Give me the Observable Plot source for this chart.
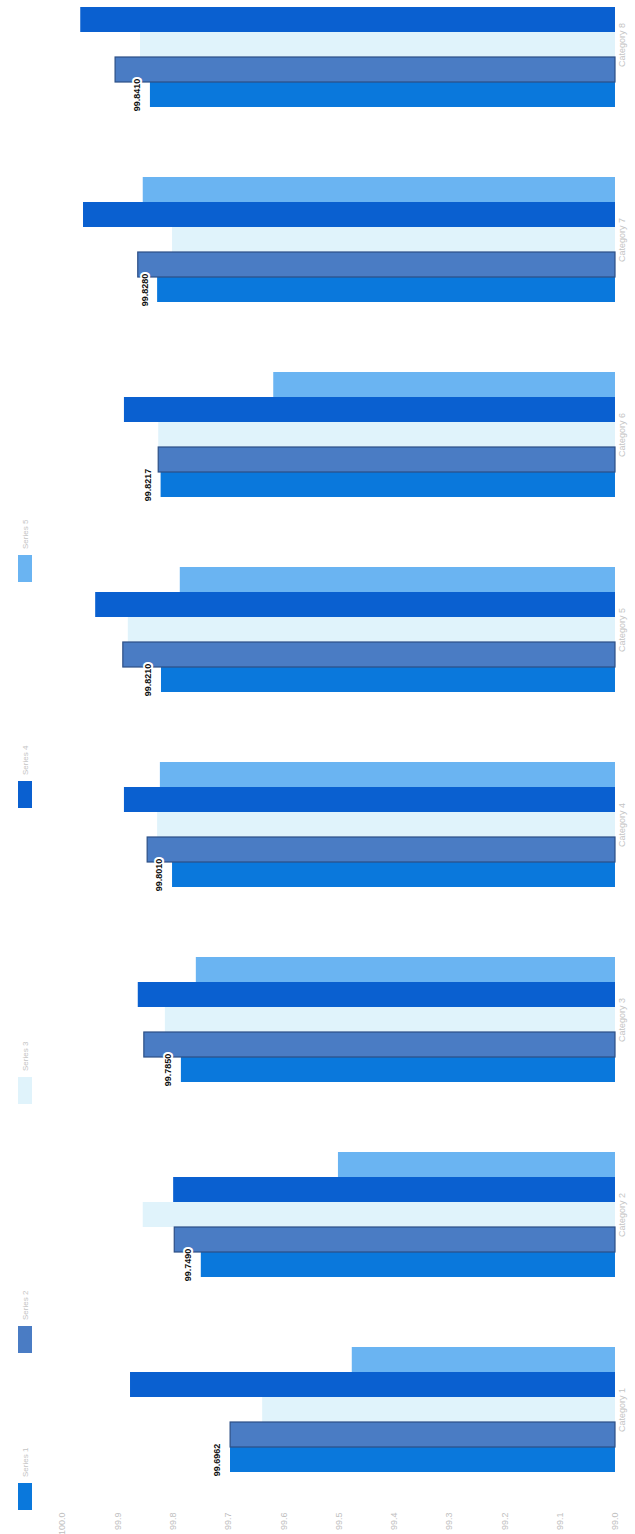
<!DOCTYPE html>
<html>
<head>
<meta charset="utf-8">
<script src="https://cdn.jsdelivr.net/npm/d3@7"></script>
<script src="https://cdn.jsdelivr.net/npm/@observablehq/plot@0.6"></script>
<style>
  html, body { margin: 0; padding: 0; background: #fff; overflow: hidden; }
  #wrap { position: relative; width: 635px; height: 1534px; overflow: hidden; font-family: "Liberation Sans", Arial, sans-serif; }
  #chart { position: absolute; left: 0; top: -53px; }
  #legend { position: absolute; left: 0; top: 1534px; width: 1534px; height: 40px;
            transform-origin: 0 0; transform: rotate(-90deg);
            display: flex; align-items: flex-start; box-sizing: border-box;
            padding-left: 24px; padding-top: 18px; }
  .item { display: flex; align-items: center; font-size: 8px; color: #c4c4c4; white-space: nowrap; overflow: hidden; }
  .item:nth-child(1) { width: 157px; }
  .item:nth-child(2) { width: 249px; }
  .item:nth-child(3) { width: 296px; }
  .item:nth-child(4) { width: 226px; }
  .item:nth-child(5) { width: 260px; }
  .sw { width: 27px; height: 14px; margin-right: 6px; flex: none; }
</style>
</head>
<body>
<div id="wrap">
  <div id="chart"></div>
  <div id="legend"></div>
</div>
<script>
// ---- data ----
const categories = ["Category 1", "Category 2", "Category 3", "Category 4",
                    "Category 5", "Category 6", "Category 7", "Category 8"];
const series = ["Series 1", "Series 2", "Series 3", "Series 4", "Series 5"];
const seriesColors = ["#0a78dc", "#4a7cc4", "#e0f3fb", "#0a60d0", "#6ab4f2"];
const series1 = [99.6962, 99.7490, 99.7850, 99.8010, 99.8210, 99.8217, 99.8280, 99.8410];
const series2 = [99.6960, 99.7970, 99.8520, 99.8460, 99.8900, 99.8260, 99.8630, 99.9040];
const series3 = [99.6380, 99.8540, 99.8140, 99.8280, 99.8810, 99.8260, 99.8010, 99.8590];
const series4 = [99.8770, 99.7990, 99.8630, 99.8880, 99.9400, 99.8880, 99.9620, 99.9670];
const series5 = [99.4760, 99.5010, 99.7580, 99.8230, 99.7870, 99.6180, 99.8540, null];
const xTicks = [99, 99.1, 99.2, 99.3, 99.4, 99.5, 99.6, 99.7, 99.8, 99.9, 100];
const axisMin = 99, axisMax = 100;

const allSeries = [series1, series2, series3, series4, series5];
const rows = categories.flatMap((c, i) =>
  series.map((s, j) => ({category: c, series: s, value: allSeries[j][i]}))
).filter(d => d.value != null);
const rowsS1 = rows.filter(d => d.series === series[0]);
const rowsS2 = rows.filter(d => d.series === series[1]);

const chart = Plot.plot({
  width: 635,
  height: 1590,
  marginTop: 0,
  marginBottom: 30,
  marginLeft: 62,
  marginRight: 20,
  style: {fontFamily: "Liberation Sans, Arial, sans-serif", background: "transparent"},
  x: {domain: [axisMin, axisMax], reverse: true},
  y: {domain: series.slice().reverse(), padding: 0, axis: null},
  fy: {domain: categories.slice().reverse(), paddingInner: 0.3385, paddingOuter: 0.169, axis: null},
  color: {domain: series, range: seriesColors},
  marks: [
    Plot.barX(rows, {x1: d => axisMin, x2: "value", y: "series", fy: "category", fill: "series"}),
    Plot.barX(rowsS2, {x1: d => axisMin, x2: "value", y: "series", fy: "category",
                       fill: "none", stroke: "#2c4f86", strokeWidth: 1.2}),
    Plot.text(rowsS1, {x: "value", y: "series", fy: "category",
                       text: d => d.value.toFixed(4), rotate: -90, dx: -13,
                       fontSize: 9, fontWeight: "bold", fill: "#111",
                       stroke: "white", strokeWidth: 4, paintOrder: "stroke"}),
    Plot.axisX({anchor: "bottom", ticks: xTicks, tickFormat: d3.format(".1f"),
                tickRotate: -90, tickSize: 0, tickPadding: 38, fill: "#c0c0c0",
                fontSize: 9, label: null}),
    Plot.axisFy({anchor: "right", tickRotate: -90, tickSize: 0, tickPadding: 9,
                 fill: "#c4c4c4", fontSize: 9, label: null})
  ]
});
document.getElementById("chart").appendChild(chart);

// legend (rotated with the chart)
const legend = document.getElementById("legend");
series.forEach((s, j) => {
  const item = document.createElement("div");
  item.className = "item";
  const sw = document.createElement("span");
  sw.className = "sw";
  sw.style.background = seriesColors[j];
  const t = document.createElement("span");
  t.textContent = s;
  item.appendChild(sw);
  item.appendChild(t);
  legend.appendChild(item);
});
</script>
</body>
</html>
